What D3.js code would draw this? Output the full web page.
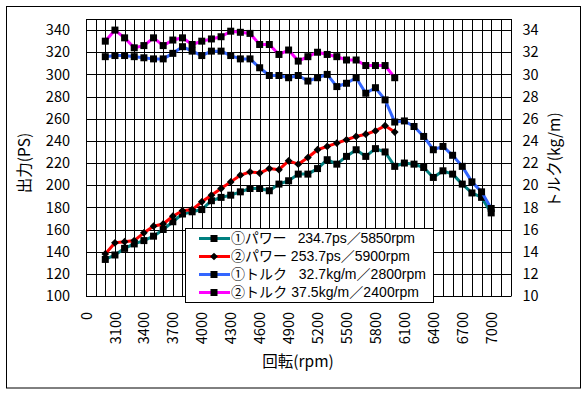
<!DOCTYPE html>
<html>
<head>
<meta charset="utf-8">
<script src="https://cdn.jsdelivr.net/npm/d3@7"></script>
<style>
  body { margin: 0; background: #fff; }
  svg text { font-family: "Noto Sans CJK JP", "Noto Sans", sans-serif; fill: #000; }
  svg text.leg { font-family: "Liberation Sans", "Noto Sans CJK JP", sans-serif; }
</style>
</head>
<body>
<svg width="588" height="395"></svg>
<script>
// x categories (label shown on every 3rd one)
var categories = ["0", "2900", "3000", "3100", "3200", "3300", "3400", "3500", "3600", "3700", "3800", "3900",
    "4000", "4100", "4200", "4300", "4400", "4500", "4600", "4700", "4800", "4900", "5000", "5100", "5200",
    "5300", "5400", "5500", "5600", "5700", "5800", "5900", "6000", "6100", "6200", "6300", "6400", "6500",
    "6600", "6700", "6800", "6900", "7000", "7100", "7200"];

// rpm of the measured points
var rpm = ["3000", "3100", "3200", "3300", "3400", "3500", "3600", "3700", "3800", "3900", "4000", "4100",
    "4200", "4300", "4400", "4500", "4600", "4700", "4800", "4900", "5000", "5100", "5200", "5300", "5400",
    "5500", "5600", "5700", "5800", "5900", "6000", "6100", "6200", "6300", "6400", "6500", "6600", "6700",
    "6800", "6900", "7000"];

// ①パワー (PS)
var power1 = [133, 137, 143, 147, 150, 154, 160, 167, 174, 176, 178, 186, 189, 191, 194, 197, 197, 195, 201, 204,
    210, 210, 215, 223, 219, 226, 232, 226, 233, 230, 217, 220, 219, 216, 207, 213, 210, 201, 193, 189, 175];
// ②パワー (PS)
var power2 = [138, 148, 149, 150, 157, 163, 165, 172, 177, 178, 185, 191, 197, 203, 209, 212, 211, 215, 214, 222,
    219, 225, 232, 235, 238, 241, 244, 246, 249, 253.7, 248];
// ①トルク (kg/m)
var torque1 = [31.6, 31.7, 31.7, 31.6, 31.5, 31.4, 31.4, 31.9, 32.5, 32.1, 31.7, 32.1, 32.1, 31.7, 31.4, 31.4,
    30.6, 29.9, 29.9, 29.7, 29.9, 29.4, 29.7, 30.0, 28.9, 29.2, 29.7, 28.3, 28.8, 27.7, 25.7, 25.8, 25.3, 24.4,
    23.2, 23.5, 22.7, 21.7, 20.3, 19.4, 17.9];
// ②トルク (kg/m)
var torque2 = [33.0, 34.0, 33.3, 32.4, 32.6, 33.3, 32.6, 33.1, 33.3, 32.7, 33.0, 33.2, 33.4, 33.9, 33.8, 33.7,
    32.7, 32.7, 31.8, 32.2, 31.2, 31.6, 32.0, 31.8, 31.6, 31.3, 31.3, 30.8, 30.8, 30.8, 29.7];

var psTicks = [100, 120, 140, 160, 180, 200, 220, 240, 260, 280, 300, 320, 340];
var torqueTicks = [10, 12, 14, 16, 18, 20, 22, 24, 26, 28, 30, 32, 34];

var legendLabels = ["①パワー   234.7ps／5850rpm", "②パワー 253.7ps／5900rpm",
    "①トルク   32.7kg/m／2800rpm", "②トルク 37.5kg/m／2400rpm"];

var plot = { left: 86, right: 510.5, top: 19, bottom: 296 };
var legendTextWidth = [184, 179, 195, 188]; // widths of the legend lines in the picture

var svg = d3.select('svg');

// outer frame
svg.append('rect')
    .attr('x', 6.5).attr('y', 6.5)
    .attr('width', 574).attr('height', 381.5)
    .attr('fill', '#fff')
    .attr('stroke', '#000');

// scales
var xScale = d3.scalePoint()
    .domain(categories)
    .range([plot.left, plot.right]);

var yLeft = d3.scaleLinear()
    .domain([100, 350])
    .range([plot.bottom, plot.top]);

var yRight = d3.scaleLinear()
    .domain([10, 35])
    .range([plot.bottom, plot.top]);

var crisp = v => Math.round(v) + 0.5;

// grid (every category + every 20PS)
var grid = svg.append('g').attr('stroke', '#000').attr('stroke-width', 1);
grid.selectAll('line.v')
    .data(categories)
    .enter().append('line')
    .attr('x1', d => crisp(xScale(d))).attr('x2', d => crisp(xScale(d)))
    .attr('y1', plot.top).attr('y2', plot.bottom);
grid.selectAll('line.h')
    .data(psTicks.concat([350]))
    .enter().append('line')
    .attr('x1', plot.left).attr('x2', plot.right + 1)
    .attr('y1', d => crisp(yLeft(d))).attr('y2', d => crisp(yLeft(d)));

// axes
var leftAxis = svg.append('g')
    .attr('transform', 'translate(' + [plot.left, 0] + ')')
    .call(d3.axisLeft(yLeft).tickValues(psTicks).tickSize(0).tickPadding(16));

var rightAxis = svg.append('g')
    .attr('transform', 'translate(' + [plot.right, 0] + ')')
    .call(d3.axisRight(yRight).tickValues(torqueTicks).tickSize(0).tickPadding(12));

var xAxis = svg.append('g')
    .attr('transform', 'translate(' + [0, plot.bottom] + ')')
    .call(d3.axisBottom(xScale).tickValues(categories.filter((d, i) => i % 3 === 0)).tickSize(0));

xAxis.selectAll('text')
    .attr('transform', 'rotate(-90)')
    .attr('x', -16)
    .attr('y', 0)
    .attr('dy', '0.35em')
    .style('text-anchor', 'end');

[leftAxis, rightAxis, xAxis].forEach(a => {
    a.select('.domain').remove();
    a.attr('font-family', null);
    a.selectAll('text').attr('font-size', '14.5px').attr('fill', '#000');
});

// axis titles
svg.append('text')
    .attr('transform', 'translate(25,163) rotate(-90)')
    .attr('text-anchor', 'middle').attr('dy', '0.35em')
    .attr('font-size', '15.5px')
    .text('出力(PS)');

svg.append('text')
    .attr('transform', 'translate(555,160) rotate(-90)')
    .attr('text-anchor', 'middle').attr('dy', '0.35em')
    .attr('font-size', '15.5px')
    .text('トルク(kg/m)');

svg.append('text')
    .attr('x', 298).attr('y', 362)
    .attr('text-anchor', 'middle').attr('dy', '0.35em')
    .attr('font-size', '15.5px')
    .text('回転(rpm)');

// series
var series = [
    { values: power1, scale: yLeft, color: '#008080', marker: 'square' },
    { values: power2, scale: yLeft, color: '#FF0000', marker: 'diamond' },
    { values: torque1, scale: yRight, color: '#3366FF', marker: 'square' },
    { values: torque2, scale: yRight, color: '#FF00FF', marker: 'square' }
];

var squareSym = d3.symbol(d3.symbolSquare, 49);
var diamondSym = d3.symbol(d3.symbolSquare, 30);

series.forEach(s => {
    var line = d3.line()
        .x((d, i) => xScale(rpm[i]))
        .y(d => s.scale(d));

    svg.append('path')
        .datum(s.values)
        .attr('fill', 'none')
        .attr('stroke', s.color)
        .attr('stroke-width', 3)
        .attr('stroke-linejoin', 'round')
        .attr('d', line);

    svg.append('g').selectAll('path')
        .data(s.values)
        .enter().append('path')
        .attr('d', s.marker === 'square' ? squareSym : diamondSym)
        .attr('fill', '#000')
        .attr('transform', (d, i) => 'translate(' + [xScale(rpm[i]), s.scale(d)] + ')' +
            (s.marker === 'diamond' ? ' rotate(45)' : ''));
});

// legend
var legend = svg.append('g');
legend.append('rect')
    .attr('x', 185.5).attr('y', 228.5)
    .attr('width', 248).attr('height', 74)
    .attr('fill', '#fff')
    .attr('stroke', '#000');

var rows = legend.selectAll('g.row')
    .data(series)
    .enter().append('g')
    .attr('transform', (d, i) => 'translate(0,' + (238.5 + i * 18) + ')');

rows.append('line')
    .attr('x1', 199).attr('x2', 230)
    .attr('stroke', d => d.color)
    .attr('stroke-width', 3);

rows.append('path')
    .attr('d', d => d.marker === 'square' ? squareSym() : diamondSym())
    .attr('fill', '#000')
    .attr('transform', d => 'translate(214,0)' + (d.marker === 'diamond' ? ' rotate(45)' : ''));

rows.append('text')
    .attr('class', 'leg')
    .attr('x', 231)
    .attr('dy', '0.35em')
    .attr('font-size', '14px')
    .attr('textLength', (d, i) => legendTextWidth[i])
    .attr('lengthAdjust', 'spacing')
    .style('white-space', 'pre')
    .text((d, i) => legendLabels[i]);
</script>
</body>
</html>
